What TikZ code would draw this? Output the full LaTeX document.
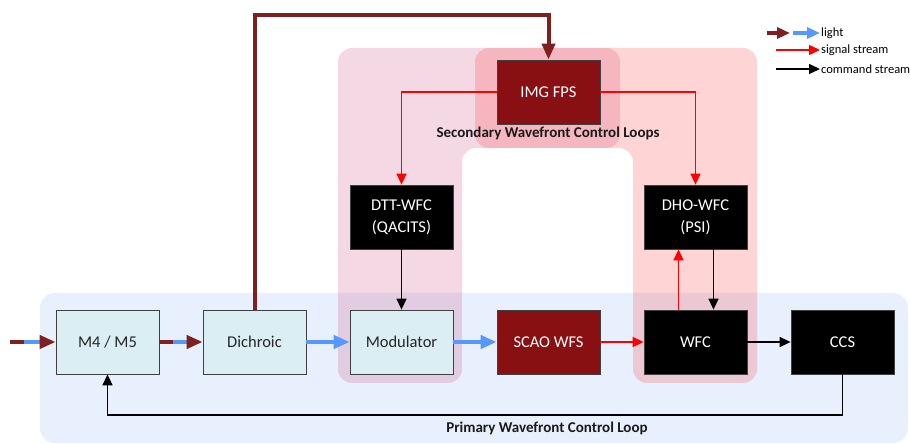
\documentclass[tikz,border=0pt]{standalone}
\usepackage{fontspec}
\setmainfont{Carlito}
\usetikzlibrary{arrows.meta}
\definecolor{lightred}{RGB}{127,31,31}
\definecolor{lightblue}{RGB}{85,153,255}
\definecolor{boxcyan}{RGB}{218,238,243}
\definecolor{boxred}{RGB}{137,16,18}
\definecolor{loopblue}{RGB}{100,150,240}
\definecolor{looppink}{RGB}{200,60,120}
\definecolor{loopred}{RGB}{250,60,60}
\definecolor{sigred}{RGB}{255,0,0}
\begin{document}
\begin{tikzpicture}[x=1pt, y=1pt, node distance=147pt,
    block/.style={draw=black!75, line width=0.8pt, minimum width=103pt, minimum height=64pt,
      align=center, font=\fontsize{16.5}{22}\selectfont},
    optic/.style={block, fill=boxcyan, text=black!85},
    redbox/.style={block, fill=boxred, text=white},
    blackbox/.style={block, fill=black, text=white},
    rlight/.style={draw=lightred, line width=4pt, -{Triangle[length=16pt,width=13pt]}},
    blight/.style={draw=lightblue, line width=4pt, -{Triangle[length=16pt,width=13pt]}},
    sig/.style={draw=sigred, line width=1.4pt, -{Triangle[length=11pt,width=10pt]}},
    cmd/.style={draw=black, line width=1.4pt, -{Triangle[length=11pt,width=10pt]}},
    looplabel/.style={font=\bfseries\fontsize{15}{18}\selectfont, text=black!90},
    legtext/.style={anchor=west, font=\fontsize{12.5}{15}\selectfont, inner sep=1pt}]
  \useasboundingbox (0,0) rectangle (910,444);

  \fill[loopblue, fill opacity=0.15, rounded corners=15pt] (40,1) rectangle (908,151);
  \fill[looppink, fill opacity=0.2, rounded corners=14pt]
    (338,61) -- (338,396) -- (620,396) -- (620,296) -- (462,296) -- (462,61) -- cycle;
  \fill[loopred, fill opacity=0.22, rounded corners=14pt]
    (757,61) -- (757,396) -- (475,396) -- (475,296) -- (633,296) -- (633,61) -- cycle;

  \node[optic] (m45) at (107.5,102) {M4 / M5};
  \node[optic] (dich) [right of=m45] {Dichroic};
  \node[optic] (mod) [right of=dich] {Modulator};
  \node[redbox] (scao) [right of=mod] {SCAO WFS};
  \node[blackbox] (wfc) [right of=scao] {WFC};
  \node[blackbox] (ccs) [right of=wfc] {CCS};
  \node[blackbox] (dtt) [above of=mod, node distance=125pt] {DTT-WFC\\(QACITS)};
  \node[blackbox] (dho) [above of=wfc, node distance=125pt] {DHO-WFC\\(PSI)};
  \node[redbox] (img) [above of=scao, node distance=250pt] {IMG FPS};

  \node[looplabel] (seclbl) at (548,311) {Secondary Wavefront Control Loops};
  \node[looplabel] (prilbl) at (547,16) {Primary Wavefront Control Loop};

  \coordinate (in) at (10,102);
  \draw[blight, -, shorten >=12pt] (in) -- (m45);
  \draw[rlight, dash pattern=on 14pt off 200pt] (in) -- (m45);
  \draw[blight, -, shorten >=12pt] (m45) -- (dich);
  \draw[rlight, dash pattern=on 14pt off 200pt] (m45) -- (dich);
  \draw[blight] (dich) -- (mod);
  \draw[blight] (mod) -- (scao);
  \draw[rlight] (dich.north) -- (dich.north |- 0,429) -| (img.north);

  \draw[sig] (img.west) -| (dtt.north);
  \draw[sig] (img.east) -| (dho.north);
  \draw[cmd] (dtt) -- (mod);
  \draw[sig] (scao) -- (wfc);
  \draw[sig] ([xshift=-17pt]wfc.north) -- ([xshift=-17pt]dho.south);
  \draw[cmd] ([xshift=18pt]dho.south) -- ([xshift=18pt]wfc.north);
  \draw[cmd] (wfc) -- (ccs);
  \draw[cmd] (ccs.south) -- (ccs.south |- 0,29) -| (m45.south);

  \node[legtext] (lglight) at (820,411) {light};
  \node[legtext] (lgsig) at (820,394) {signal stream};
  \node[legtext] (lgcmd) at (820,375) {command stream};
  \draw[rlight, -{Triangle[length=13pt,width=11pt]}] ([xshift=-53pt]lglight.west) -- ([xshift=-30pt]lglight.west);
  \draw[blight, -{Triangle[length=13pt,width=11pt]}] ([xshift=-27pt]lglight.west) -- (lglight.west);
  \draw[sig] ([xshift=-44pt]lgsig.west) -- (lgsig.west);
  \draw[cmd] ([xshift=-44pt]lgcmd.west) -- (lgcmd.west);
\end{tikzpicture}
\end{document}
